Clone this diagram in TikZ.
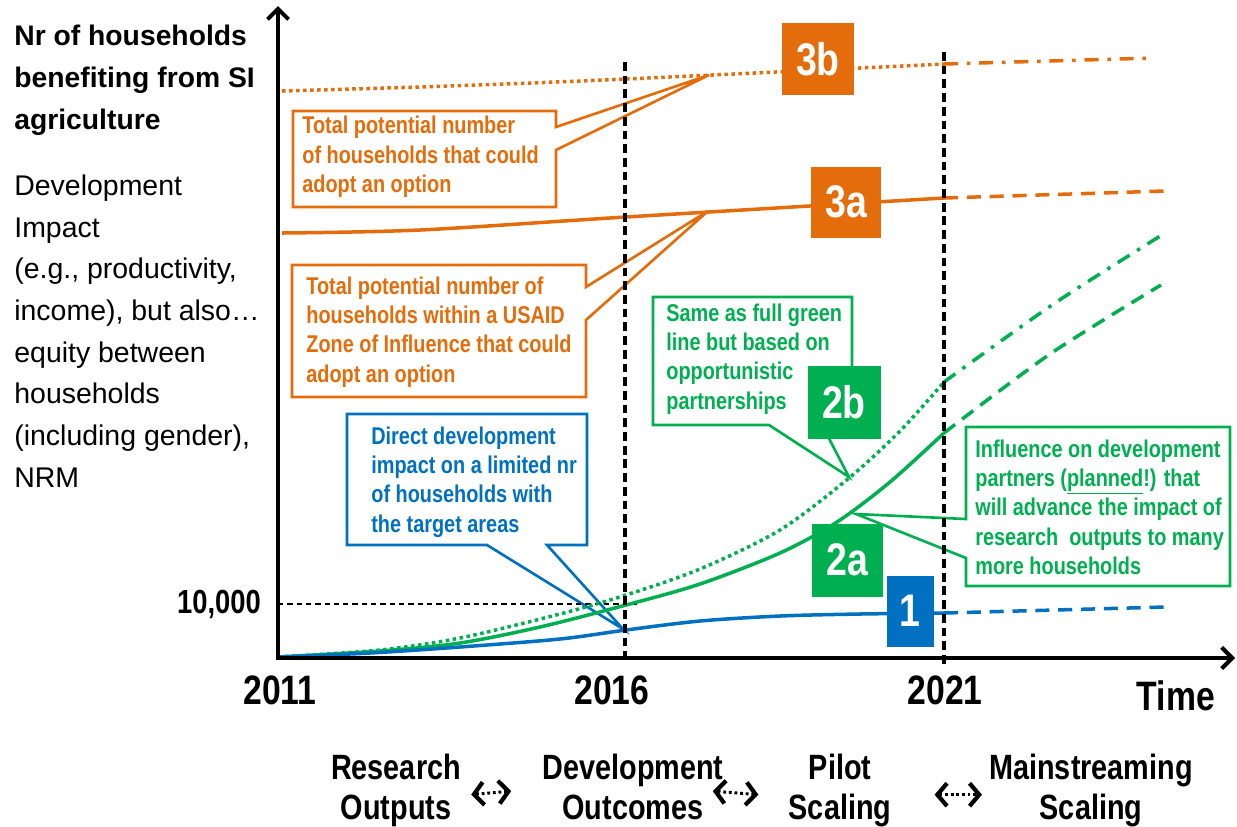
\documentclass[tikz,border=0pt]{standalone}
\usepackage{fontspec}
\setmainfont{Liberation Sans}
\newfontfamily\narrowfont[FakeStretch=0.82]{Liberation Sans}
\usetikzlibrary{calc}
\usetikzlibrary{arrows.meta}
\usetikzlibrary{positioning}
\definecolor{orng}{RGB}{228,108,10}
\definecolor{grn}{RGB}{0,176,80}
\definecolor{blu}{RGB}{0,112,192}
\tikzset{
  trend/.style = {line width=2pt},
  dotline/.style = {trend, dash pattern=on 2pt off 2pt},
  dashline/.style = {trend, dash pattern=on 8pt off 5pt},
  dashdotline/.style = {trend, dash pattern=on 8pt off 5pt on 2pt off 5pt},
  yearline/.style = {line width=2pt, dash pattern=on 5pt off 2.8pt},
  axis/.style = {line width=2.3pt, -{Straight Barb[length=6pt, width=12pt]}},
  cbox/.style = {line width=1.5pt, line join=miter},
  ctext/.style = {font=\narrowfont\bfseries\fontsize{13.8}{16.7}\selectfont, align=left, anchor=west, inner sep=0},
  numbox/.style = {fill=#1, text=white, inner sep=0, font=\narrowfont\bfseries\fontsize{26}{28}\selectfont},
  yearlab/.style = {font=\narrowfont\bfseries\fontsize{23.4}{26}\selectfont, inner sep=0},
  phase/.style = {font=\narrowfont\bfseries\fontsize{20}{22.6}\selectfont, align=center, inner sep=0, anchor=north},
  dotarr/.style = {line width=1.7pt, dash pattern=on 1.6pt off 1.6pt, {Straight Barb[length=5.5pt, width=13pt, line width=2.4pt]}-{Straight Barb[length=5.5pt, width=13pt, line width=2.4pt]}}
}

\begin{document}
\begin{tikzpicture}[x=0.02cm, y=-0.02cm]
\useasboundingbox (0,0) rectangle (1237,826);

% axis titles
\node [font=\bfseries\fontsize{16.1}{23.8}\selectfont, align=left, anchor=west, inner sep=0] (ttl) at (14,80) {Nr of households\\benefiting from SI\\agriculture};
\node [font=\fontsize{16.2}{23.7}\selectfont, align=left, anchor=west, inner sep=0] (sub) at (14,331) {Development\\Impact\\(e.g., productivity,\\income), but also\dots\\equity between\\households\\(including gender),\\NRM};

% tips of the callouts
\coordinate (tip3b) at (709,75);
\coordinate (tip3a) at (708,211);
\coordinate (tip2b) at (849,477);
\coordinate (tip2a) at (856,514);
\coordinate (tip1) at (623,629);

% callouts
\draw [cbox, orng] (293,111) -- (556,111) -- (556,127) -- (tip3b) -- (556,150) -- (556,207) -- (293,207) -- cycle;
\node [ctext, orng] (c3b) at (302,157) {Total potential number\\of households that could\\adopt an option};
\draw [cbox, orng] (292,265) -- (586,265) -- (586,287) -- (tip3a) -- (586,320) -- (586,397) -- (292,397) -- cycle;
\node [ctext, orng] (c3a) at (306,332) {Total potential number of\\households within a USAID\\Zone of Influence that could\\adopt an option};
\draw [cbox, blu] (347,414) -- (587,414) -- (587,545) -- (547,545) -- (tip1) -- (487,545) -- (347,545) -- cycle;
\node [ctext, blu] (c1) at (371,482) {Direct development\\impact on a limited nr\\of households with\\the target areas};
\draw [cbox, grn] (653,297) -- (852,297) -- (852,425) -- (822,425) -- (tip2b) -- (769,425) -- (653,425) -- cycle;
\node [ctext, grn] (c2b) at (666,359) {Same as full green\\line but based on\\opportunistic\\partnerships};
\draw [cbox, grn] (966,427) -- (1230,427) -- (1230,586) -- (966,586) -- (966,558) -- (tip2a) -- (966,519) -- cycle;
\node [ctext, grn] (c2a) at (975,507) {Influence on development\\partners (\underline{planned}!) that\\will advance the impact of\\research\ \ outputs to many\\more households};

% 10,000 level
\draw [line width=0.7pt, dash pattern=on 3pt off 2.3pt] (278,604) -- (637,604);
\node [font=\narrowfont\bfseries\fontsize{19}{20}\selectfont, inner sep=0] (l10k) at (219,604) {10,000};

% trend lines
\draw [orng, dotline] plot[smooth] coordinates {(282,91) (450,86) (626,79) (944,64)};
\draw [orng, dashdotline] (944,64) -- (1154,58);
\draw [orng, trend] plot[smooth] coordinates {(282,233) (420,230) (626,217) (944,198)};
\draw [orng, dashline] (944,198) -- (1165,191);
\draw [grn, dotline] plot[smooth] coordinates {(278,657) (380,650) (460,638) (560,614) (626,595) (700,569) (780,530) (849,478) (900,431) (944,382)};
\draw [grn, dashdotline] plot[smooth] coordinates {(944,382) (1055,303) (1165,233)};
\draw [grn, trend] plot[smooth] coordinates {(278,657) (380,651) (460,643) (540,627) (626,605) (700,584) (780,553) (837,522) (890,482) (944,433)};
\draw [grn, dashline] plot[smooth] coordinates {(944,433) (1050,354) (1161,285)};
\draw [blu, trend] plot[smooth] coordinates {(278,657) (370,653) (460,647) (560,639) (626,630) (700,621) (780,616) (860,614) (944,613)};
\draw [blu, dashline] (944,613) -- (1166,607);

% years
\draw [yearline] (625,62) -- (625,664);
\draw [yearline] (944,52) -- (944,664);

% axes
\draw [axis] (278,660) -- (278,6);
\draw [axis] (276,658) -- (1235,658);

% number boxes
\node [numbox=orng, minimum width=1.44cm, minimum height=1.44cm] (n3b) at (818,59) {3b};
\node [numbox=orng, minimum width=1.4cm, minimum height=1.42cm] (n3a) at (846,202) {3a};
\node [numbox=grn, minimum width=1.46cm, minimum height=1.46cm] (n2b) at (844,402) {2b};
\node [numbox=grn, minimum width=1.42cm, minimum height=1.46cm] (n2a) at (847,560) {2a};
\node [numbox=blu, minimum width=0.94cm, minimum height=1.42cm] (n1) at (910,611) {1};

% time axis labels
\node [yearlab] (y2011) at (280,690) {2011};
\node [yearlab] (y2016) at (612,690) {2016};
\node [yearlab] (y2021) at (945,690) {2021};
\node [yearlab] (ltime) at (1176,696) {Time};

% phases
\node [phase] (ro) at (396,754) {Research\\Outputs};
\node [phase] (do) at (633,754) {Development\\Outcomes};
\node [phase] (ps) at (840,754) {Pilot\\Scaling};
\node [phase] (ms) at (1091,754) {Mainstreaming\\Scaling};
\draw [dotarr] ($(ro.east)+(10,4)$) -- ($(do.west)+(-31,4)$);
\draw [dotarr] ($(do.east)+(-11,4)$) -- ($(ps.west)+(-30,4)$);
\draw [dotarr] ($(ps.east)+(43,4)$) -- ($(ms.west)+(-7,4)$);
\end{tikzpicture}
\end{document}
